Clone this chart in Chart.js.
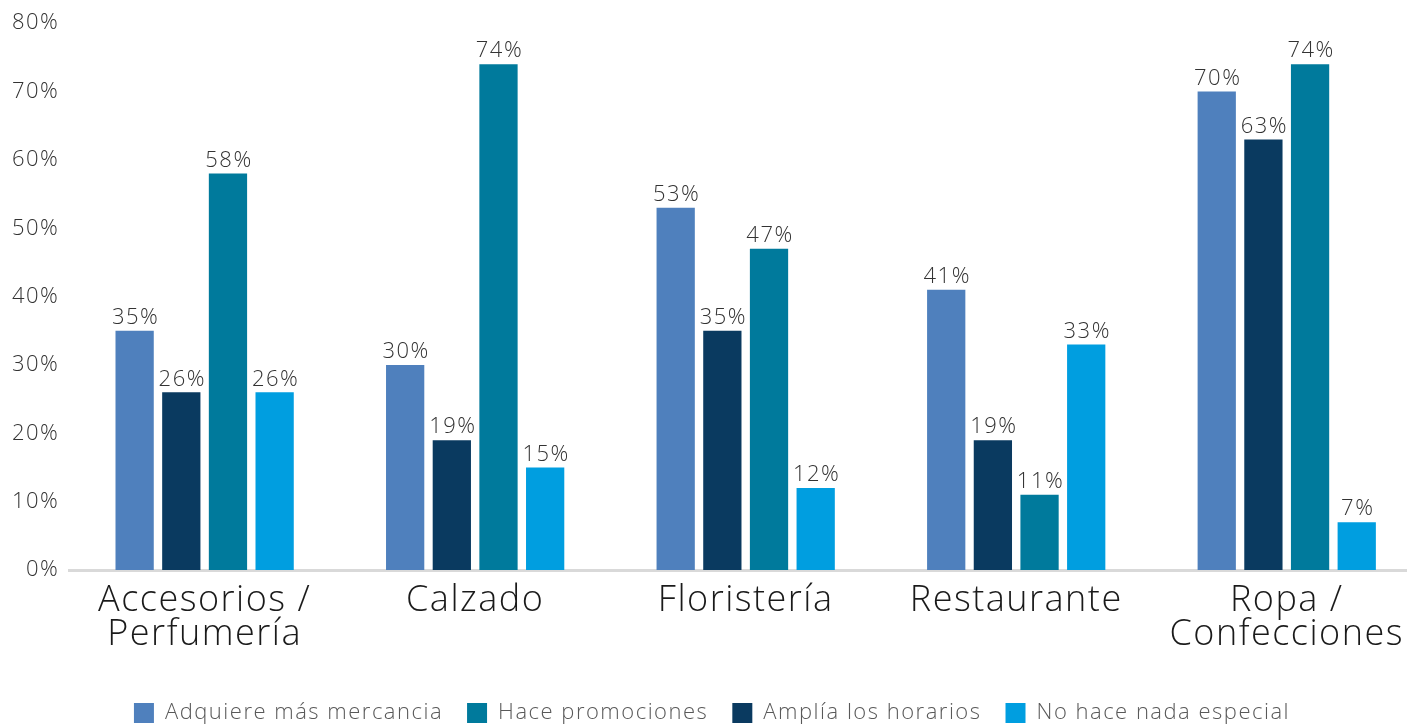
<!DOCTYPE html>
<html>
<head>
<meta charset="utf-8">
<script src="https://cdn.jsdelivr.net/npm/chart.js@4.4.1/dist/chart.umd.min.js"></script>
<style>
  html, body { margin: 0; padding: 0; background: #fff; overflow: hidden; }
  #wrap { position: relative; width: 1422px; height: 726px; }
</style>
</head>
<body>
<div id="wrap"><canvas id="chart"></canvas></div>
<script>
// categories and series
const categories = [["Accesorios /", "Perfumería"], "Calzado", "Floristería", "Restaurante", ["Ropa /", "Confecciones"]];
const adquiere = [35, 30, 53, 41, 70];
const amplia = [26, 19, 35, 19, 63];
const promociones = [58, 74, 47, 11, 74];
const nada = [26, 15, 12, 33, 7];
const yTicks = [0, 10, 20, 30, 40, 50, 60, 70, 80];

// legend shows a different order than the bars
const legendOrder = ["Adquiere más mercancia", "Hace promociones", "Amplía los horarios", "No hace nada especial"];

const FONT = "'Open Sans'";
const W = "300";
const LS = "1.5px";

// draws the percentage above each bar
const barLabels = {
    id: "barLabels",
    afterDatasetsDraw(chart) {
        const ctx = chart.ctx;
        ctx.save();
        ctx.font = W + " 22px " + FONT;
        ctx.fillStyle = "#333333";
        ctx.textAlign = "center";
        ctx.textBaseline = "bottom";
        chart.data.datasets.forEach((ds, i) => {
            chart.getDatasetMeta(i).data.forEach((bar, j) => {
                ctx.fillText(ds.data[j] + "%", bar.x + 1, bar.y - 2);
            });
        });
        ctx.restore();
    }
};

// canvas resize resets the context, so set the spacing again before measuring and drawing
const spacing = {
    id: "spacing",
    beforeUpdate(chart) { chart.ctx.letterSpacing = LS; },
    beforeLayout(chart) { chart.ctx.letterSpacing = LS; },
    beforeDraw(chart) { chart.ctx.letterSpacing = LS; }
};

var ctx = document.getElementById("chart").getContext("2d");
var myChart = new Chart(ctx, {
    type: "bar",
    data: {
        labels: categories,
        datasets: [
            { label: "Adquiere más mercancia", data: adquiere, backgroundColor: "#4F80BD" },
            { label: "Amplía los horarios", data: amplia, backgroundColor: "#0A3A60" },
            { label: "Hace promociones", data: promociones, backgroundColor: "#007A9C" },
            { label: "No hace nada especial", data: nada, backgroundColor: "#009EE0" }
        ]
    },
    options: {
        responsive: true,
        maintainAspectRatio: false,
        animation: false,
        layout: { padding: { top: 12, left: 2, right: 0, bottom: -8 } },
        datasets: { bar: { categoryPercentage: 0.69, barPercentage: 0.82 } },
        plugins: {
            tooltip: { enabled: false },
            legend: {
                position: "bottom",
                padding: 0,
                labels: {
                    font: { family: FONT, size: 22, weight: W },
                    color: "#595959",
                    boxWidth: 20,
                    boxHeight: 20,
                    padding: 24,
                    sort: (a, b) => legendOrder.indexOf(a.text) - legendOrder.indexOf(b.text)
                }
            }
        },
        scales: {
            x: {
                grid: { display: false, drawTicks: false },
                border: { display: true, color: "#D9D9D9", width: 3 },
                ticks: {
                    font: { family: FONT, size: 36, weight: W, lineHeight: 0.93 },
                    color: "#1a1a1a",
                    padding: 14,
                    maxRotation: 0
                },
                afterFit: (axis) => { axis.height += 13; }
            },
            y: {
                min: 0,
                max: 80,
                afterBuildTicks: (axis) => { axis.ticks = yTicks.map(v => ({ value: v })); },
                grid: { display: false, drawTicks: false },
                border: { display: false },
                ticks: {
                    font: { family: FONT, size: 22, weight: W },
                    color: "#333333",
                    padding: 10,
                    callback: (v) => v + "%"
                }
            }
        }
    },
    plugins: [spacing, barLabels]
});
</script>
</body>
</html>
